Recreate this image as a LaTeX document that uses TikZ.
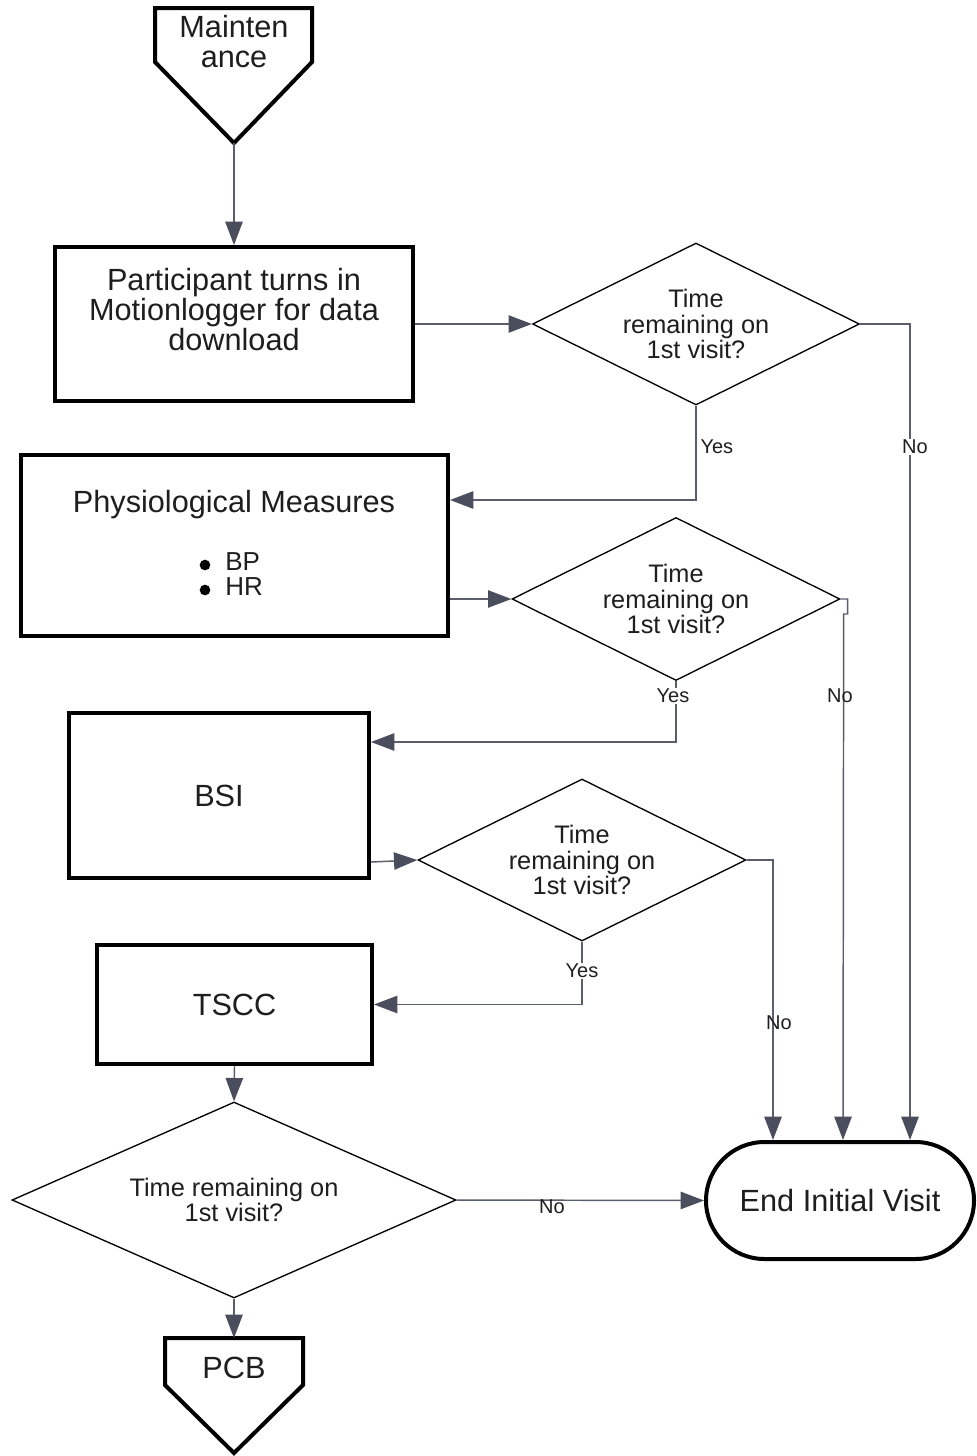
\documentclass[tikz,border=0pt]{standalone}
\usepackage{fontspec}
\setmainfont{Liberation Sans}
\usetikzlibrary{shapes.geometric,shapes.misc,arrows.meta,calc}
\definecolor{lc}{HTML}{5A5E6A}
\definecolor{ac}{HTML}{4A4D5B}
\definecolor{tc}{HTML}{1E1E1E}
\newcommand\bigf{\fontsize{23}{22.5}\selectfont}
\newcommand\smallf{\fontsize{19}{19.3}\selectfont}
\newcommand\lblf{\fontsize{15}{16}\selectfont}
\newcommand\bulf{\fontsize{19.5}{19}\selectfont}
\begin{document}
\begin{tikzpicture}[x=0.75pt,y=-0.75pt,
  thickbox/.style={draw=black, line width=3pt, fill=white, inner sep=0pt, text=tc},
  thickline/.style={draw=black, line width=3pt, fill=white, line join=miter},
  bigt/.style={font=\bigf, align=center, inner sep=0pt, text=tc},
  bult/.style={font=\bulf, inner sep=0pt, text=tc},
  dia/.style={diamond, draw=black, line width=1pt, fill=white, inner sep=0pt, aspect=2, align=center, font=\smallf, text=tc},
  conn/.style={draw=lc, line width=1.1pt},
  arr/.style={conn, -{Triangle[length=17.5pt,width=13pt,color=ac]}},
  lbl/.style={font=\lblf, inner sep=1pt, text=tc},
  lblw/.style={lbl, fill=white}]
\useasboundingbox (0,0) rectangle (976,1456);
\fill[white] (0,0) rectangle (976,1456);

% Off-page connectors
\draw[thickline] (155,8) -- (312,8) -- (312,62) -- (234,143) -- (155,62) -- cycle;
\coordinate (mtip) at (234,143);
\node[bigt] (mt) at (234,42) {Mainten\\ance};

\draw[thickline] (165,1338) -- (303,1338) -- (303,1385) -- (234,1453) -- (165,1385) -- cycle;
\coordinate (ptop) at (234,1338);
\node[bigt] (pt) at (234,1368) {PCB};

% Process boxes
\node[thickbox, minimum width=268.5pt, minimum height=115.5pt] (b1) at (234,324) {};
\node[bigt] (b1t) at (234,310) {Participant turns in\\Motionlogger for data\\download};

\node[thickbox, minimum width=320.25pt, minimum height=135.75pt] (b2) at (234.5,545.5) {};
\node[bigt] (b2t) at (234,505) {Physiological Measures};
\node[circle, fill=black, inner sep=0pt, minimum size=8pt] (bu1) at (205,565) {};
\node[circle, fill=black, inner sep=0pt, minimum size=8pt] (bu2) at (205,590) {};
\node[bult, anchor=west] (bp) at (225,562) {BP};
\node[bult, anchor=west] (hr) at (225,587) {HR};

\node[thickbox, minimum width=225pt, minimum height=123.75pt, font=\bigf] (bsi) at (219,795.5) {BSI};
\node[thickbox, minimum width=206.25pt, minimum height=89.25pt, font=\bigf] (tscc) at (234.5,1004.5) {TSCC};

\node[rounded rectangle, draw=black, line width=3pt, fill=white, minimum width=201pt, minimum height=87.75pt, font=\bigf, inner sep=0pt, text=tc] (end) at (840,1200.5) {End Initial Visit};

% Decisions
\node[dia, minimum width=245.25pt, minimum height=121.5pt] (d1) at (696,324) {Time\\remaining on\\1st visit?};
\node[dia, minimum width=246pt, minimum height=122.25pt] (d2) at (676,599) {Time\\remaining on\\1st visit?};
\node[dia, minimum width=246pt, minimum height=121.5pt] (d3) at (582,860) {Time\\remaining on\\1st visit?};
\node[dia, minimum width=333pt, minimum height=147pt, aspect=2.2] (d4) at (234,1200) {Time remaining on\\1st visit?};

% Connectors
\draw[arr] (mtip) -- (b1.north);
\draw[arr] (b1.east) -- (d1.west);
\draw[arr] (d1.south) |- ($(b2.north east)+(0,47)$);
\draw[arr] (d1.east) -| ($(end.north)+(70,0)$);
\draw[arr] ($(b2.south east)+(0,-39)$) -- (d2.west);
\draw[arr] (d2.east) -- ++(7,0) -- ++(0,15) -- ++(-4,0) -- ($(end.north)+(3,0)$);
\draw[arr] (d2.south) |- ($(bsi.north east)+(0,31)$);
\draw[arr] ($(bsi.south east)+(0,-18)$) -- (d3.west);
\draw[arr] (d3.east) -| ($(end.north)+(-67,0)$);
\draw[arr] (d3.south) |- (tscc.east);
\draw[arr] (tscc.south) -- (d4.north);
\draw[arr] (d4.east) -- (end.west);
\draw[arr] (d4.south) -- (ptop);

% Labels
\node[lbl, anchor=west] (y1) at (699,447) {Yes};
\node[lblw] (n1) at (915,447) {No};
\node[lblw] (y2) at (673,696) {Yes};
\node[lbl] (n2) at (840,696) {No};
\node[lblw] (y3) at (582,971) {Yes};
\node[lbl] (n3) at (779,1023) {No};
\node[lbl] (n4) at (552,1207) {No};
\end{tikzpicture}
\end{document}
